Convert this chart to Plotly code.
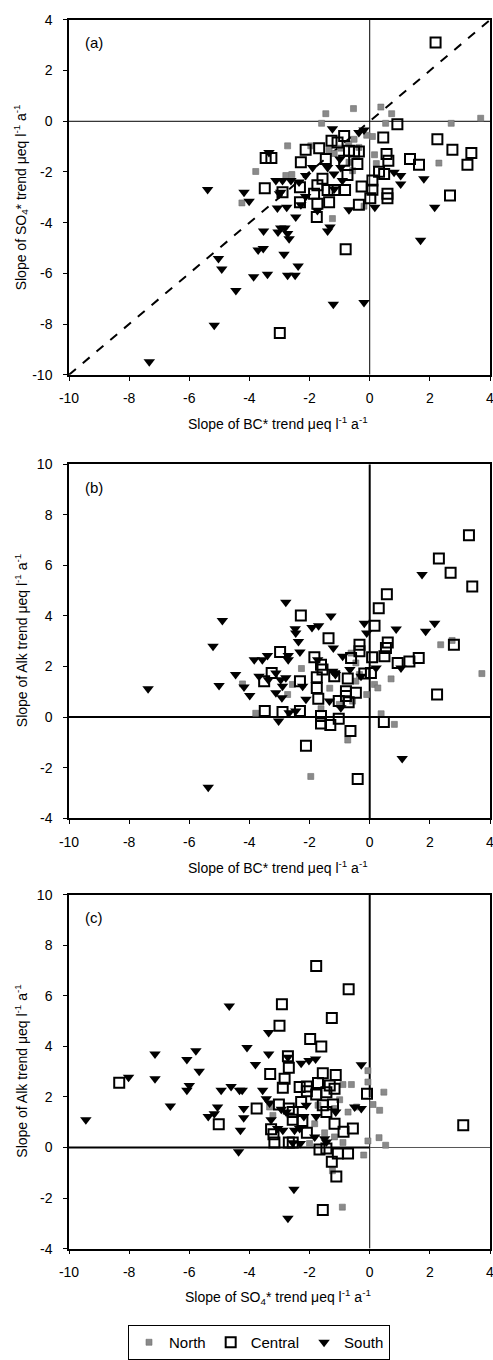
import plotly.graph_objects as go

# ---------------- data ----------------
# Panel (a): x = slope of BC* trend, y = slope of SO4* trend
a_north_x = [-0.54, 0.37, -1.46, 0.73, -1.60, 0.53, 2.71, 3.69, 0.09, -0.10, -0.52, -2.73, -1.96, 0.16, 0.22, 2.30,
             -3.79, -2.79, -2.59, -1.35, -1.18, -0.96, -0.36, -0.69, -0.57, -4.25, -1.24, -0.19, -0.70]
a_north_y = [0.50, 0.56, 0.30, 0.30, -0.08, -0.08, -0.08, 0.12, -0.60, -0.55, -0.71, -0.97, -0.97, -1.32, -1.67, -1.65,
             -1.98, -2.14, -2.10, -1.14, -1.27, -1.06, -1.03, -1.62, -1.95, -3.22, -3.84, -3.35, -0.90]
a_central_x = [2.19, 0.92, 0.45, 2.25, 2.75, 3.38, 3.25, 1.34, 1.64, 0.56, 0.62, 0.31, 0.48, 0.09, -0.85, -1.27, -1.07,
               -1.68, -2.13, -3.46, -3.27, -2.29, -1.46, -0.69, -0.52, -0.36, -0.41, -0.85, -0.74, -1.57, -1.74, -3.49,
               -2.90, -2.32, -1.85, -1.40, -1.18, -0.82, -0.27, 0.09, 0.02, 0.59, 0.59, -2.32, -1.74, -1.35, -0.36,
               -1.76, 2.67, -0.80, -2.99]
a_central_y = [3.11, -0.12, -0.64, -0.71, -1.12, -1.25, -1.71, -1.49, -1.71, -1.29, -1.56, -1.99, -2.08, -2.34, -0.58,
               -0.77, -0.84, -1.06, -1.12, -1.45, -1.45, -1.62, -1.49, -1.16, -1.19, -1.19, -1.69, -1.56, -2.12, -2.27,
               -2.52, -2.64, -2.80, -2.60, -2.86, -2.71, -2.71, -2.71, -2.57, -2.70, -3.04, -2.86, -3.04, -3.19, -3.25,
               -3.19, -3.29, -3.78, -2.93, -5.05, -8.35]
a_south_x = [-1.24, -0.36, -0.19, -3.35, -0.99, -1.40, 0.81, 1.03, 1.80, 1.03, -3.12, -2.90, -2.62, -2.35, -2.13, -5.39,
             -4.18, -1.18, -0.91, -2.96, -4.01, -3.07, -2.76, -2.46, -2.29, -1.74, -0.69, 0.17, 2.16, 1.69, -3.53,
             -2.96, -2.82, -2.73, -2.68, -3.05, -1.40, -1.32, -3.71, -3.54, -2.85, -5.03, -4.92, -3.86, -3.40, -2.73,
             -2.48, -2.38, -4.45, -1.21, -0.19, -5.17, -7.33, -1.90, -1.19, -0.96, -3.00, -2.13]
a_south_y = [-0.29, -0.44, -0.34, -1.23, -1.49, -1.82, -2.01, -2.14, -2.27, -2.47, -2.34, -2.34, -2.34, -2.40, -2.14,
             -2.69, -2.80, -2.67, -2.34, -2.80, -3.15, -3.42, -3.39, -3.78, -3.29, -3.52, -3.49, -3.39, -3.39, -4.69,
             -4.33, -4.21, -4.21, -4.43, -4.63, -4.37, -4.33, -4.17, -5.08, -5.02, -5.25, -5.41, -5.83, -6.13, -6.03,
             -6.07, -6.07, -5.71, -6.68, -7.22, -7.15, -8.05, -9.49, -1.82, -2.08, -1.82, -2.86, -2.97]

# Panel (b): x = slope of BC* trend, y = slope of Alk trend
b_north_x = [-2.27, -4.23, -3.79, -2.57, -2.73, -1.33, -0.46, -0.46, -0.57, -0.10, 0.16, 0.27, 0.71, 0.38, 0.82, -0.73,
             -1.96, 2.36, 2.74, 3.73, -1.01, -1.62, -0.34, -0.62]
b_north_y = [1.92, 1.31, 0.15, 1.29, 0.89, 1.14, 2.14, 1.42, 0.63, 0.89, 1.29, 1.15, 1.51, 0.13, -0.29, -0.91,
             -2.35, 2.86, 3.03, 1.72, 0.50, 0.33, 1.68, 2.53]
b_central_x = [3.30, 2.30, 2.69, 3.41, 0.57, 0.30, -2.29, 0.16, -1.37, -0.34, -0.34, 0.60, 0.54, 0.49, 2.80, -2.98,
               -1.84, -0.62, 0.08, 0.93, 1.32, 1.63, -3.26, -3.51, -1.62, -1.57, -1.76, -1.18, -0.73, -0.18, 0.04,
               -2.32, -1.76, -0.79, -0.79, -0.46, -1.71, -1.03, -0.70, 2.24, -3.49, -2.90, -2.32, -1.62, -1.62, -1.31,
               -1.03, 0.47, -0.64, -2.12, -0.40]
b_central_y = [7.19, 6.27, 5.71, 5.16, 4.86, 4.30, 4.02, 3.61, 3.12, 2.86, 2.60, 2.95, 2.73, 2.40, 2.86, 2.57,
               2.37, 2.34, 2.37, 2.14, 2.20, 2.34, 1.74, 1.42, 2.07, 1.88, 1.57, 1.61, 1.52, 1.72, 1.74,
               1.42, 1.15, 1.02, 0.83, 0.96, 0.72, 0.63, 0.59, 0.89, 0.24, 0.20, 0.24, 0.04, -0.26, -0.31,
               -0.07, -0.20, -0.55, -1.14, -2.45]
b_south_x = [-4.90, -2.79, -1.29, -2.48, -2.46, -1.92, -1.70, -0.18, 0.88, 1.74, 2.16, 1.86, -5.21, -0.10, -2.37, -1.21,
             -2.32, -3.84, -3.57, -3.40, -2.71, -2.71, -4.46, -5.01, -7.37, -4.18, -3.99, -3.68, -3.37, -3.12, -2.96,
             -2.79, -2.90, -2.92, -3.12, -2.23, -2.12, -2.68, -2.46, -3.03, -1.73, -1.23, -1.14, -0.90, -0.66, -1.34,
             -0.96, 0.21, 1.04, -0.29, 1.08, -5.37]
b_south_y = [3.82, 4.54, 4.00, 3.49, 3.32, 3.54, 3.61, 3.71, 3.48, 5.64, 3.71, 3.39, 2.80, 3.32, 2.99, 2.73,
             2.57, 2.27, 2.27, 2.43, 2.43, 2.27, 1.68, 1.25, 1.12, 1.19, 0.85, 1.61, 1.48, 1.74, 1.48,
             1.55, 1.22, 0.76, 0.96, 1.22, 0.70, 0.17, 0.24, -0.16, 2.27, 1.81, 1.68, 2.40, 1.88, 0.63,
             0.37, 1.94, 1.94, 1.61, -1.64, -2.78]

# Panel (c): x = slope of SO4* trend, y = slope of Alk trend
c_north_x = [-0.06, -0.06, 0.47, -0.61, -0.89, -1.00, 0.11, 0.33, -3.33, -3.22, -1.72, -0.72, -1.83, -1.50, -1.17, -0.89,
             -0.06, 0.31, 0.53, -0.20, -1.24, -0.91, -0.44, -1.17, -2.00]
c_north_y = [3.04, 2.59, 2.19, 2.49, 2.49, 1.89, 1.70, 1.47, 1.60, 1.27, 1.67, 1.40, 0.94, 0.58, 0.42, 0.20,
             0.26, 0.39, 0.09, -0.30, -0.92, -2.36, 1.60, 1.54, 0.16]
c_central_x = [-1.78, -0.70, -2.92, -1.26, -3.00, -1.98, -1.61, -2.72, -2.69, -3.31, -1.56, -1.13, -8.33, -5.02, -3.76,
               -2.83, -2.89, -2.33, -2.09, -2.09, -1.72, -1.33, -1.17, -1.78, -1.44, -0.09, -3.02, -2.69, -2.56, -2.28,
               -1.56, -1.22, -1.44, -2.24, -2.56, -1.17, -0.87, -0.56, -2.09, -3.28, -3.20, -3.17, -2.69, -2.56, -1.67,
               -1.44, -1.06, -0.72, -1.26, -1.11, -1.56, 3.11]
c_central_y = [7.18, 6.26, 5.67, 5.12, 4.82, 4.29, 4.00, 3.61, 3.15, 2.91, 2.94, 2.87, 2.56, 0.92, 1.54,
               2.72, 2.36, 2.39, 2.41, 2.23, 2.55, 2.45, 2.32, 2.10, 2.19, 2.13, 1.70, 1.54, 1.40, 1.80,
               1.67, 1.70, 1.40, 1.05, 1.10, 0.94, 0.62, 0.75, 0.58, 0.72, 0.52, 0.20, 0.20, 0.20, -0.08,
               -0.04, -0.24, -0.24, -0.56, -1.15, -2.47, 0.88]
c_south_x = [-4.67, -3.36, -4.08, -3.36, -2.72, -7.14, -5.78, -6.08, -3.80, -2.28, -2.02, -1.80, -0.28, -5.67, -9.44,
             -8.02, -7.14, -6.00, -6.08, -6.63, -5.06, -5.17, -5.37, -4.94, -4.61, -4.33, -4.24, -4.19, -4.19, -4.30,
             -4.36, -3.56, -3.44, -3.33, -3.28, -3.06, -2.89, -2.94, -2.78, -2.50, -2.33, -2.31, -2.56, -2.19, -1.78,
             -1.83, -1.50, -1.44, -2.11, -1.13, -0.50, -0.28, -2.52, -2.72]
c_south_y = [5.60, 4.55, 3.96, 3.70, 3.57, 3.70, 3.83, 3.48, 3.28, 3.33, 3.44, 3.50, 3.27, 3.02, 1.10,
             2.78, 2.72, 2.45, 2.26, 1.64, 1.60, 1.34, 1.23, 2.26, 2.41, 2.26, 2.26, 1.54, 1.18, 0.68,
             -0.17, 2.26, 1.93, 1.76, 1.10, 0.75, 0.68, 1.51, 1.40, 0.68, 0.75, 0.16, 0.19, 1.23, 1.23,
             0.42, 0.35, 0.22, 1.67, 1.40, 1.60, 1.54, -1.65, -2.80]

series_names = ["North", "Central", "South"]
x_ticks = [-10, -8, -6, -4, -2, 0, 2, 4]
x_tick_text = ["-10", "-8", "-6", "-4", "-2", "0", "2", "4"]
y_ticks_a = [-10, -8, -6, -4, -2, 0, 2, 4]
y_tick_text_a = ["-10", "-8", "-6", "-4", "-2", "0", "2", "4"]
y_ticks_bc = [-4, -2, 0, 2, 4, 6, 8, 10]
y_tick_text_bc = ["-4", "-2", "0", "2", "4", "6", "8", "10"]
panel_labels = ["(a)", "(b)", "(c)"]
x_titles = ["Slope of BC* trend μeq l<sup>-1</sup> a<sup>-1</sup>",
            "Slope of BC* trend μeq l<sup>-1</sup> a<sup>-1</sup>",
            "Slope of SO<sub>4</sub>* trend μeq l<sup>-1</sup> a<sup>-1</sup>"]
y_titles = ["Slope of SO<sub>4</sub>* trend μeq l<sup>-1</sup> a<sup>-1</sup>",
            "Slope of Alk trend μeq l<sup>-1</sup> a<sup>-1</sup>",
            "Slope of Alk trend μeq l<sup>-1</sup> a<sup>-1</sup>"]

# ---------------- layout geometry ----------------
W, H = 493, 1360
X0, X1 = 69, 490              # page px
panels_px = [(20, 377), (467, 823), (900, 1256)]  # top, bottom in page px
y_ranges = [[-10, 4], [-4, 10], [-4, 10]]
y_tickvals = [y_ticks_a, y_ticks_bc, y_ticks_bc]
y_ticktexts = [y_tick_text_a, y_tick_text_bc, y_tick_text_bc]
FONT = "Liberation Sans, Arial, sans-serif"

def px_(p):
    return p / W

def py(p):
    return 1 - p / H

fig = go.Figure()

data = [
    [(a_north_x, a_north_y), (a_central_x, a_central_y), (a_south_x, a_south_y)],
    [(b_north_x, b_north_y), (b_central_x, b_central_y), (b_south_x, b_south_y)],
    [(c_north_x, c_north_y), (c_central_x, c_central_y), (c_south_x, c_south_y)],
]

marker_styles = [
    dict(symbol="square", size=6, color="#8a8a8a", line=dict(width=0.6, color="#6e6e6e")),
    dict(symbol="square-open", size=10, color="black", line=dict(width=2, color="black")),
    dict(symbol="triangle-down", size=10, color="black", line=dict(width=0)),
]

for i in range(3):
    xa = "x" if i == 0 else f"x{i+1}"
    ya = "y" if i == 0 else f"y{i+1}"
    for j in range(3):
        xs, ys = data[i][j]
        fig.add_trace(go.Scatter(
            x=xs, y=ys, mode="markers", name=series_names[j],
            marker=marker_styles[j], xaxis=xa, yaxis=ya,
            showlegend=(i == 0), hoverinfo="x+y"))

shapes = []
# panel (a): thin zero lines + dashed 1:1 line
shapes += [
    dict(type="line", xref="x", yref="y", x0=0, x1=0, y0=-10, y1=4, line=dict(color="black", width=1), layer="below"),
    dict(type="line", xref="x", yref="y", x0=-10, x1=4, y0=0, y1=0, line=dict(color="black", width=1), layer="below"),
    dict(type="line", xref="x", yref="y", x0=-10, x1=4, y0=-10, y1=4,
         line=dict(color="black", width=2, dash="dash"), layer="below"),
]
# panel (b): thick zero lines
shapes += [
    dict(type="line", xref="x2", yref="y2", x0=0, x1=0, y0=-4, y1=10, line=dict(color="black", width=2), layer="below"),
    dict(type="line", xref="x2", yref="y2", x0=-10, x1=4, y0=0, y1=0, line=dict(color="black", width=2), layer="below"),
]
# panel (c)
shapes += [
    dict(type="line", xref="x3", yref="y3", x0=0, x1=0, y0=2, y1=10, line=dict(color="black", width=2), layer="below"),
    dict(type="line", xref="x3", yref="y3", x0=0, x1=0, y0=-4, y1=2, line=dict(color="black", width=1), layer="below"),
    dict(type="line", xref="x3", yref="y3", x0=-10, x1=0, y0=0, y1=0, line=dict(color="black", width=2), layer="below"),
    dict(type="line", xref="x3", yref="y3", x0=0, x1=4, y0=0, y1=0, line=dict(color="#555555", width=1), layer="below"),
]

annotations = []
for i, (top, bot) in enumerate(panels_px):
    annotations.append(dict(text=panel_labels[i], xref="paper", yref="paper", x=px_(83), y=py(top + 23),
                            xanchor="left", yanchor="middle", showarrow=False,
                            font=dict(family=FONT, size=15, color="black")))
    annotations.append(dict(text=x_titles[i], xref="paper", yref="paper", x=px_(278), y=py(bot + 49),
                            xanchor="center", yanchor="middle", showarrow=False,
                            font=dict(family=FONT, size=14, color="black")))
    annotations.append(dict(text=y_titles[i], xref="paper", yref="paper", x=px_(21), y=py((top + bot) / 2),
                            xanchor="center", yanchor="middle", textangle=-90, showarrow=False,
                            font=dict(family=FONT, size=14, color="black")))

axis_common = dict(showgrid=False, zeroline=False, showline=True, mirror=True, linecolor="black", linewidth=1.5,
                   ticks="outside", ticklen=4, tickwidth=1, tickcolor="black", automargin=False,
                   ticklabeloverflow="allow",
                   tickfont=dict(family=FONT, size=14, color="black"), fixedrange=True)

layout = dict(
    width=W, height=H, margin=dict(l=0, r=0, t=0, b=0),
    paper_bgcolor="white", plot_bgcolor="white",
    shapes=shapes, annotations=annotations,
    showlegend=True,
    legend=dict(orientation="h", x=px_(259), xanchor="center", y=py(1333), yanchor="top",
                bordercolor="black", borderwidth=1, bgcolor="white",
                font=dict(family=FONT, size=15, color="black"), itemwidth=30,
                tracegroupgap=0),
)
for i, (top, bot) in enumerate(panels_px):
    sx = "" if i == 0 else str(i + 1)
    layout[f"xaxis{sx}"] = dict(axis_common, domain=[px_(X0), px_(X1)], range=[-10, 4], tickvals=x_ticks,
                                ticktext=x_tick_text, anchor=f"y{sx}", ticklabelstandoff=6)
    layout[f"yaxis{sx}"] = dict(axis_common, domain=[py(bot), py(top)], range=y_ranges[i],
                                tickvals=y_tickvals[i], ticktext=y_ticktexts[i],
                                anchor=f"x{sx}", ticklabelstandoff=8)

fig.update_layout(**layout)
# remove the default page margin so the 493x1360 figure fills the window exactly
fig.write_html("out.html",
               config={"displayModeBar": False, "staticPlot": False},
               post_script="document.body.style.margin='0px';"
                           "document.documentElement.style.overflow='hidden';"
                           "document.body.style.overflow='hidden';")
